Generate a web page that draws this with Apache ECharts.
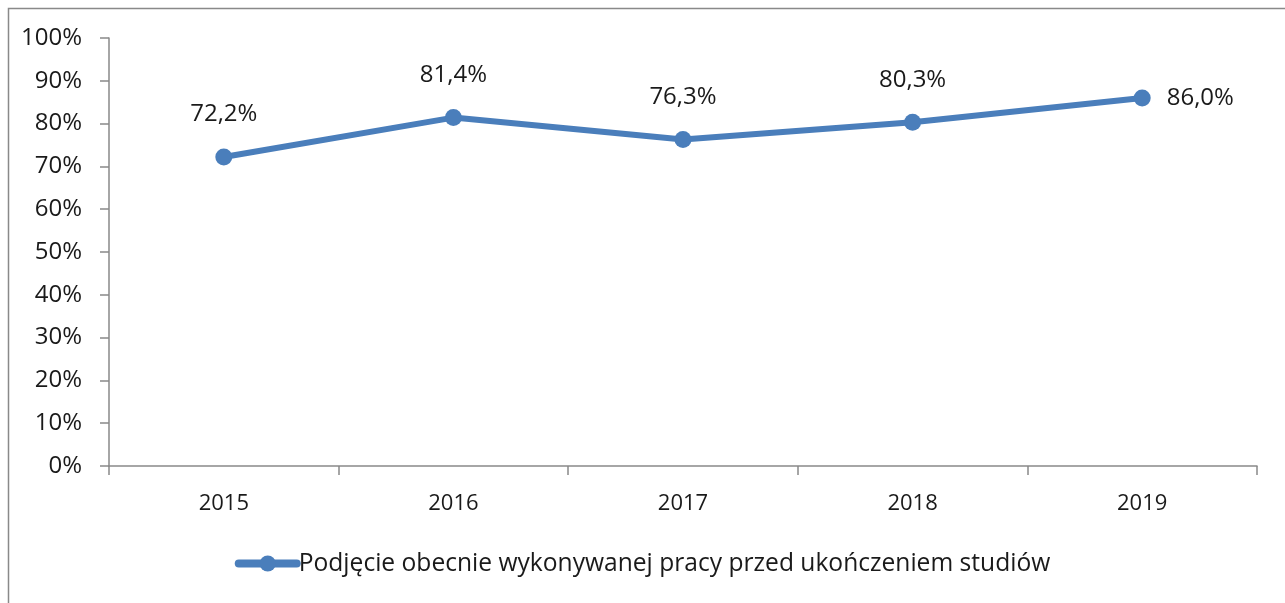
<!DOCTYPE html>
<html>
<head>
<meta charset="utf-8">
<script src="https://cdn.jsdelivr.net/npm/echarts@6/dist/echarts.min.js"></script>
<style>
  html, body { margin: 0; padding: 0; background: #fff; }
  #chart { width: 1285px; height: 603px; }
</style>
</head>
<body>
<div id="chart"></div>
<script>
// dane
var years = ['2015', '2016', '2017', '2018', '2019'];
var seriesName = 'Podjęcie obecnie wykonywanej pracy przed ukończeniem studiów';
var shares = [72.2, 81.4, 76.3, 80.3, 86.0];
var yTicks = [0, 10, 20, 30, 40, 50, 60, 70, 80, 90, 100];

var fontName = '"Open Sans", "Noto Sans", sans-serif';
var axisGray = '#898989';
var blue = '#4a7ebb';
var txt = '#1a1a1a';

var chart = echarts.init(document.getElementById('chart'));

// etykiety: ostatnia po prawej, reszta nad punktem
var points = shares.map(function (v, i) {
  var last = i === shares.length - 1;
  return {
    value: v,
    label: last ? { position: 'right', distance: 16 } : { position: 'top', distance: 22 }
  };
});

chart.setOption({
  animation: false,
  textStyle: { fontFamily: fontName },
  graphic: [{
    type: 'rect',
    left: 6,
    top: 6,
    shape: { width: 1400, height: 800 },
    style: { fill: 'none', stroke: axisGray, lineWidth: 1.5 },
    silent: true
  }],
  grid: {
    left: 109,
    right: 28,
    top: 38,
    bottom: 137
  },
  legend: {
    bottom: 22,
    left: 'center',
    itemWidth: 58,
    itemHeight: 20,
    itemGap: 3,
    lineStyle: { width: 8, cap: 'round' },
    textStyle: { fontSize: 24.6, color: txt, fontFamily: fontName, padding: [0, 0, 0, -3] },
    data: [seriesName]
  },
  xAxis: {
    type: 'category',
    data: years,
    boundaryGap: true,
    axisLine: { lineStyle: { color: axisGray, width: 1.5 } },
    axisTick: { show: true, length: 9, lineStyle: { color: axisGray, width: 1.5 } },
    axisLabel: { fontSize: 22, color: txt, margin: 27 }
  },
  yAxis: {
    type: 'value',
    min: yTicks[0],
    max: yTicks[yTicks.length - 1],
    interval: 10,
    splitLine: { show: false },
    axisLine: { show: true, lineStyle: { color: axisGray, width: 1.5 } },
    axisTick: { show: true, length: 9, lineStyle: { color: axisGray, width: 1.5 } },
    axisLabel: {
      fontSize: 24,
      color: txt,
      margin: 27,
      formatter: function (v) { return v + '%'; }
    }
  },
  series: [{
    name: seriesName,
    type: 'line',
    data: points,
    symbol: 'circle',
    symbolSize: 17,
    lineStyle: { color: blue, width: 6, cap: 'round' },
    itemStyle: { color: blue },
    label: {
      show: true,
      fontSize: 24,
      color: txt,
      formatter: function (p) { return p.value.toFixed(1).replace('.', ',') + '%'; }
    }
  }]
});

window.addEventListener('resize', function () {
  chart.resize();
});
</script>
</body>
</html>
